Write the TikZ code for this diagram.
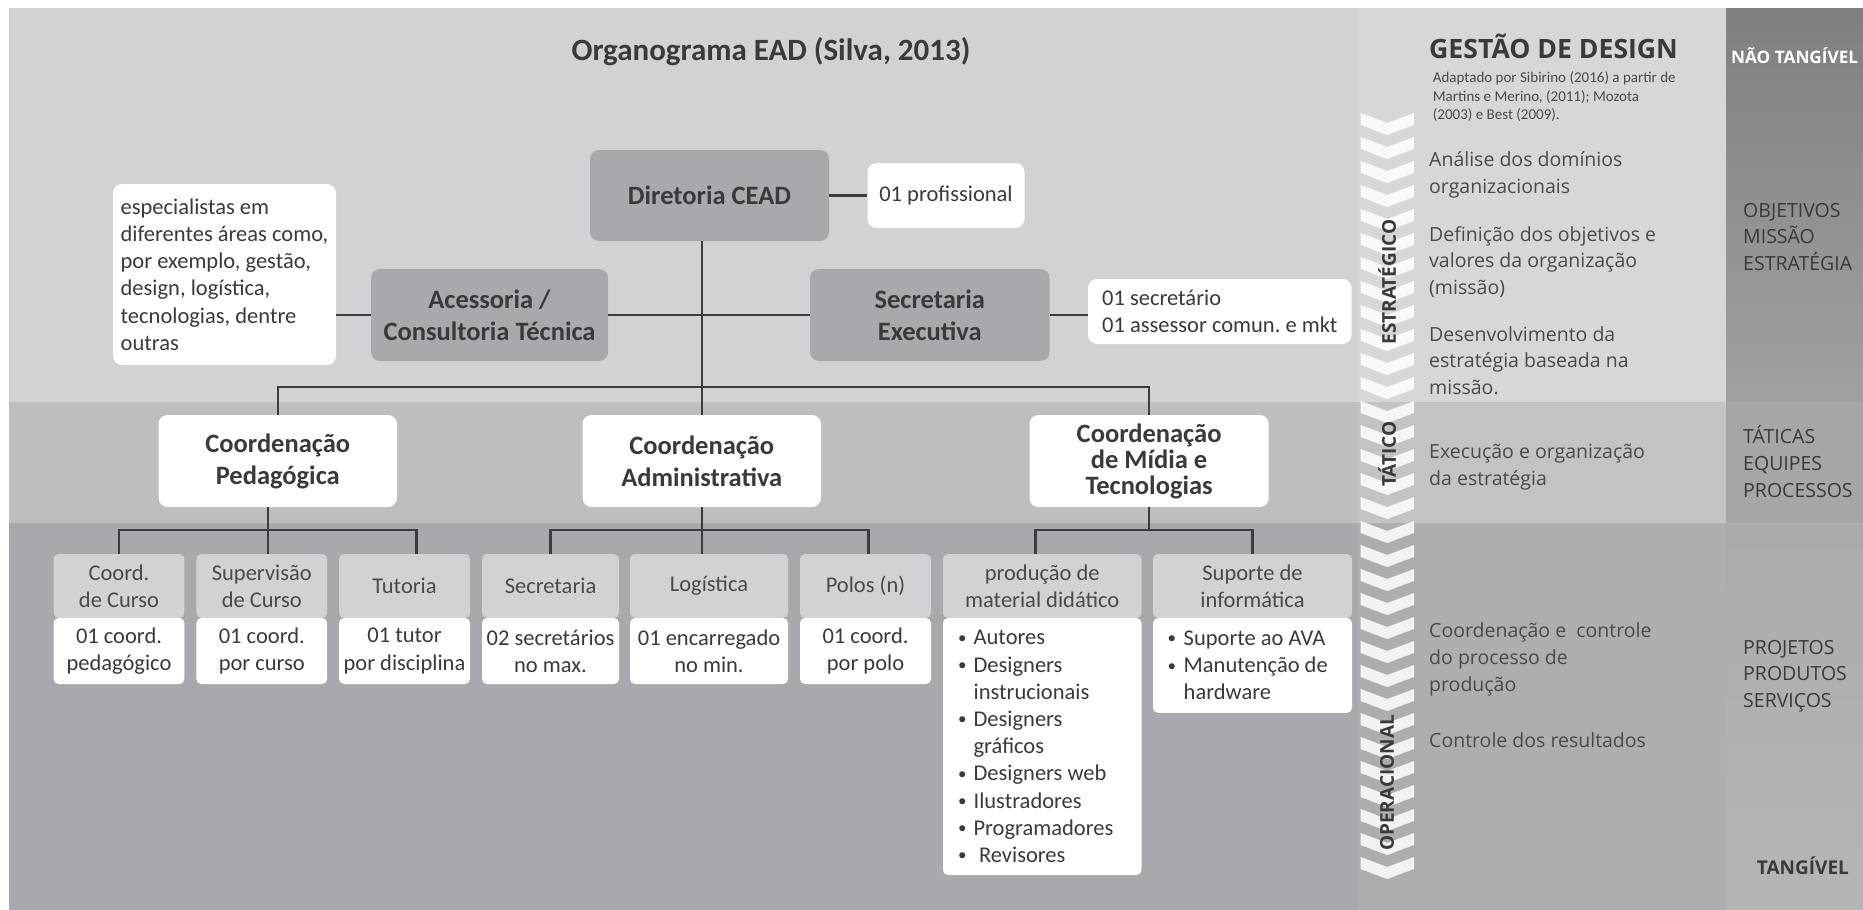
\documentclass[tikz,border=0pt]{standalone}
\usepackage{fontspec}
\setmainfont{Carlito}
\newfontfamily\osans{Open Sans}
\usetikzlibrary{calc}

\definecolor{bandA}{HTML}{D1D2D4}
\definecolor{bandB}{HTML}{BDBEC0}
\definecolor{bandC}{HTML}{A8A9AC}
\definecolor{panA}{HTML}{D6D7D9}
\definecolor{panB}{HTML}{C2C3C5}
\definecolor{panC}{HTML}{ADAEB0}
\definecolor{boxdark}{HTML}{A7A9AC}
\definecolor{boxhead}{HTML}{D1D2D4}
\definecolor{ink}{HTML}{3A3A3C}
\definecolor{inksoft}{HTML}{4A4A4C}
\definecolor{wire}{HTML}{3C3C3E}

% font sizes are given in pt, one pt per pixel of the drawing
\newcommand\orgTitle{\fontsize{31}{36}\selectfont\bfseries}
\newcommand\orgBold{\fontsize{26.5}{32}\selectfont\bfseries}
\newcommand\orgBoldTight{\fontsize{26.5}{26}\selectfont\bfseries}
\newcommand\orgReg{\fontsize{22.5}{27.2}\selectfont}
\newcommand\panHead{\osans\fontsize{26.6}{30}\selectfont\bfseries}
\newcommand\panSub{\fontsize{15}{18.5}\selectfont}
\newcommand\panReg{\osans\fontsize{19.5}{26.7}\selectfont}
\newcommand\panBold{\osans\fontsize{19}{24}\selectfont\bfseries}
\newcommand\dotmark{\raisebox{1.5pt}{\fontsize{17}{17}\selectfont •}}
\newcommand\bul{\makebox[15.6pt][l]{\dotmark}}

\tikzset{
  wire/.style={draw=wire, line width=2.5pt},
  darkbox/.style={fill=boxdark, rounded corners=9pt, inner sep=0pt, text=ink,
    font=\orgBold, align=center},
  notebox/.style={fill=white, rounded corners=9pt, inner sep=0pt, text=ink,
    font=\orgReg},
  coordbox/.style={fill=white, rounded corners=9pt, inner sep=0pt, text=ink,
    font=\orgBold, align=center, minimum height=92pt},
  headbox/.style={fill=boxhead, rounded corners=5pt, inner sep=0pt, text=inksoft,
    font=\orgReg, align=center, minimum height=64pt},
  bodybox/.style={fill=white, rounded corners=5pt, inner sep=0pt, text=ink,
    font=\orgReg, align=center},
  ptext/.style={font=\panReg, text=inksoft, align=left, inner sep=0pt, anchor=west},
  ctext/.style={font=\panReg, text=ink, align=left, inner sep=0pt, anchor=west},
  vlabel/.style={font=\panBold, text=ink, rotate=90, inner sep=0pt},
  chev/.style={fill=white, fill opacity=0.85},
}

\begin{document}
\begin{tikzpicture}[x=1pt, y=-1pt]
\useasboundingbox (0,0) rectangle (1863,910);
\fill[white] (0,0) rectangle (1863,910);

% level bands of the chart
\fill[bandA] (9,8) rectangle (1358,402);
\fill[bandB] (9,402) rectangle (1358,523);
\fill[bandC] (9,523) rectangle (1358,910);
% design management panel
\fill[panA] (1358,8) rectangle (1726,402);
\fill[panB] (1358,402) rectangle (1726,523);
\fill[panC] (1358,523) rectangle (1726,910);
% tangibility column
\shade[top color=black!50, bottom color=black!37] (1726,8) rectangle (1863,402);
\fill[black!35] (1726,402) rectangle (1863,523);
\shade[top color=black!33, bottom color=black!29] (1726,523) rectangle (1863,910);

% chevron strip
\foreach \i in {0,...,31}{
  \pgfmathsetmacro\cy{113+24*\i}
  \fill[chev] (1360.5,\cy) -- (1387.25,{\cy+10}) -- (1414,\cy) -- (1414,{\cy+12})
    -- (1387.25,{\cy+22}) -- (1360.5,{\cy+12}) -- cycle;
}

% ---------- chart ----------
\node[font=\orgTitle, text=ink, anchor=base, inner sep=0pt] (ttl) at (771,60) {Organograma EAD (Silva, 2013)};

\node[darkbox, minimum width=239pt, minimum height=91pt] (dir) at (709.5,195.5) {Diretoria CEAD};
\node[notebox, minimum width=157pt, minimum height=65pt] (prof) at (946,195.5) {01 profissional};

\node[notebox, align=flush left, minimum width=223pt, minimum height=181pt] (esp) at (224.5,274.5)
  {especialistas em\\diferentes áreas como,\\por exemplo, gestão,\\design, logística,\\tecnologias, dentre\\outras};
\node[darkbox, minimum width=237pt, minimum height=92pt] (ace) at (489.5,315) {Acessoria /\\Consultoria Técnica};
\node[darkbox, minimum width=239.5pt, minimum height=92pt] (sec) at (929.75,315) {Secretaria\\Executiva};
\node[notebox, align=flush left, minimum width=263.6pt, minimum height=65pt] (info) at (1219.8,311.5)
  {01 secretário\\01 assessor comun.\ e mkt};

\node[coordbox, minimum width=238.5pt] (ped) at (277.75,461) {Coordenação\\Pedagógica};
\node[coordbox, minimum width=238.5pt] (adm) at (701.75,461) {Coordenação\\Administrativa};
\node[coordbox, minimum width=239.2pt, font=\orgBoldTight] (mtc) at (1149.1,461) {Coordenação\\de Mídia e\\Tecnologias};

% units under each coordination
\node[headbox, minimum width=130.8pt] (h1) at (119,586) {Coord.\\de Curso};
\node[headbox, minimum width=130.8pt] (h2) at (261.8,586) {Supervisão\\de Curso};
\node[headbox, minimum width=131pt] (h3) at (404.5,586) {Tutoria};
\node[headbox, minimum width=137pt] (h4) at (550.5,586) {Secretaria};
\node[headbox, minimum width=158pt] (h5) at (709,586) {Logística};
\node[headbox, minimum width=131pt] (h6) at (865.5,586) {Polos (n)};
\node[headbox, minimum width=198.5pt] (h7) at (1042.25,586) {produção de\\material didático};
\node[headbox, minimum width=199pt] (h8) at (1252.5,586) {Suporte de\\informática};

\node[bodybox, minimum width=130.8pt, minimum height=66pt] (b1) at (119,651) {01 coord.\\pedagógico};
\node[bodybox, minimum width=130.8pt, minimum height=66pt] (b2) at (261.8,651) {01 coord.\\por curso};
\node[bodybox, minimum width=131pt, minimum height=66pt] (b3) at (404.5,651) {01 tutor\\por disciplina};
\node[bodybox, minimum width=137pt, minimum height=66pt] (b4) at (550.5,651) {02 secretários\\no max.};
\node[bodybox, minimum width=158pt, minimum height=66pt] (b5) at (709,651) {01 encarregado\\no min.};
\node[bodybox, minimum width=131pt, minimum height=66pt] (b6) at (865.5,651) {01 coord.\\por polo};
\node[bodybox, align=flush left, text width=168.5pt, minimum width=198.5pt, minimum height=257pt] (b7) at (1042.25,746.5)
  {\bul Autores\\\bul Designers\\\hspace*{15.6pt}instrucionais\\\bul Designers\\\hspace*{15.6pt}gráficos\\\bul Designers web\\\bul Ilustradores\\\bul Programadores\\\makebox[21pt][l]{\dotmark}Revisores};
\node[bodybox, align=flush left, text width=169.8pt, minimum width=199pt, minimum height=94.7pt] (b8) at (1252.5,665.4)
  {\makebox[16.1pt][l]{\dotmark}Suporte ao AVA\\\makebox[16.1pt][l]{\dotmark}Manutenção de\\\hspace*{16.1pt}hardware};

% drop points of the connectors
\coordinate (busTop) at (0,387);
\coordinate (busP) at (0,530);
\coordinate (dP) at (268,0);
\coordinate (dT) at (416.5,0);
\coordinate (dPol) at (868.7,0);
\coordinate (dProd) at (1035.7,0);

% connectors
\draw[wire] (dir.east) -- (prof.west);
\draw[wire] (dir.south -| adm.north) -- (adm.north);
\draw[wire] (ace.west) -- (ace.west -| esp.east);
\draw[wire] (ace.east) -- (sec.west);
\draw[wire] (sec.east) -- (sec.east -| info.west);
\draw[wire] (ped.north) -- (ped.north |- busTop) -- (mtc.north |- busTop) -- (mtc.north);

\draw[wire] (ped.south -| dP) -- (h2.north -| dP);
\draw[wire] (h1.north) |- (dT |- busP) -- (dT |- h3.north);
\draw[wire] (adm.south) -- (adm.south |- h5.north);
\draw[wire] (h4.north) |- (dPol |- busP) -- (dPol |- h6.north);
\draw[wire] (mtc.south) -- (mtc.south |- busP);
\draw[wire] (dProd |- h7.north) |- (h8.north |- busP) -- (h8.north);

% ---------- design management panel ----------
\node[font=\panHead, text=ink, anchor=base west, inner sep=0pt] (gd) at (1429,58.3) {GESTÃO DE DESIGN};
\node[font=\panSub, text=inksoft, align=left, anchor=west, inner sep=0pt] (gdsrc) at (1432.7,97)
  {Adaptado por Sibirino (2016) a partir de\\Martins e Merino, (2011); Mozota\\(2003) e Best (2009).};

\node[ptext] (s1) at (1429,175) {Análise dos domínios\\organizacionais};
\node[ptext] (s2) at (1429,262) {Definição dos objetivos e\\valores da organização\\(missão)};
\node[ptext] (s3) at (1429,360.5) {Desenvolvimento da\\estratégia baseada na\\missão.};
\node[ptext] (t1) at (1429,467.5) {Execução e organização\\da estratégia};
\node[ptext] (o1) at (1429,659.5) {Coordenação e\ \ controle\\do processo de\\produção};
\node[ptext, anchor=base west] (o2) at (1429,747) {Controle dos resultados};

\node[vlabel] (lv1) at (1387,282) {ESTRATÉGICO};
\node[vlabel] (lv2) at (1387,454) {TÁTICO};
\node[vlabel] (lv3) at (1387,783) {OPERACIONAL};

% tangibility column
\node[font=\osans\fontsize{17.2}{20}\selectfont\bfseries, text=white, anchor=base west, inner sep=0pt] (k0) at (1731,63) {NÃO TANGÍVEL};
\node[ctext] (k1) at (1743,237) {OBJETIVOS\\MISSÃO\\ESTRATÉGIA};
\node[ctext] (k2) at (1743,461.5) {TÁTICAS\\EQUIPES\\PROCESSOS};
\node[ctext] (k3) at (1743,676) {PROJETOS\\PRODUTOS\\SERVIÇOS};
\node[font=\panBold, text=ink, anchor=base west, inner sep=0pt] (k4) at (1756.7,874.5) {TANGÍVEL};
\end{tikzpicture}
\end{document}
